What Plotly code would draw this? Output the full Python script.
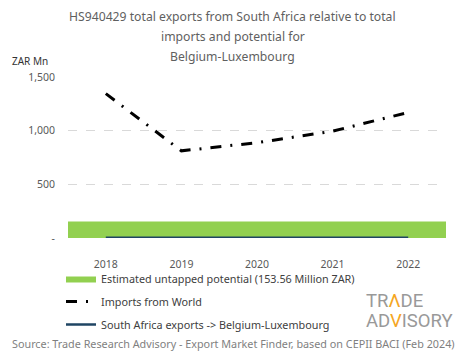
import plotly.graph_objects as go

years = ["2018", "2019", "2020", "2021", "2022"]
imports_world = [1345, 812, 888, 995, 1170]
sa_exports = [2.0, 1.5, 3.0, 1.5, 2.5]
potential_value = 153.56
y_tickvals = [0, 500, 1000, 1500]
y_ticktext = ["-", "500", "1,000", "1,500"]

title_lines = [
    "HS940429 total exports from South Africa relative to total",
    "imports and potential for",
    "Belgium-Luxembourg",
]

FONT = "Noto Sans, Open Sans, sans-serif"
x_idx = list(range(len(years)))
band_x = [x_idx[0] - 0.5, x_idx[-1] + 0.5]
band_y = [potential_value, potential_value]

fig = go.Figure()
fig.add_trace(go.Scatter(
    x=band_x, y=band_y, mode="lines", fill="tozeroy",
    fillcolor="#92D050", line=dict(width=0, color="#92D050"),
    name=f"Estimated untapped potential ({potential_value:.2f} Million ZAR)",
    legendgroup="a", hoverinfo="skip",
))
fig.add_trace(go.Scatter(
    x=x_idx, y=imports_world, mode="lines",
    line=dict(color="black", width=3, dash="11px,9px,2px,9px"),
    name="Imports from World", legendgroup="b",
))
fig.add_trace(go.Scatter(
    x=x_idx, y=sa_exports, mode="lines",
    line=dict(color="#1f4563", width=2.5),
    name="South Africa exports -> Belgium-Luxembourg", legendgroup="c",
))

# page body has an 8px default margin; lay out in window pixels
OFF = 8
W, H = 465 - OFF, 359 - OFF
L, T, B, R = 68 - OFF, 77 - OFF, 238 - OFF, 446 - OFF
pw, ph = R - L, B - T

def px(x):
    return (x - OFF - L) / pw

def py(y):
    return (B - (y - OFF)) / ph

annotations = []
for line, yc in zip(title_lines, [16.5, 36, 56]):
    annotations.append(dict(
        text=line, xref="paper", yref="paper", x=px(232.5), y=py(yc),
        xanchor="center", yanchor="middle", showarrow=False,
        font=dict(family=FONT, size=12.2, color="#5f5f5f"),
    ))
annotations.append(dict(
    text="ZAR Mn", xref="paper", yref="paper", x=px(10), y=py(61),
    xanchor="left", yanchor="middle", showarrow=False,
    font=dict(family=FONT, size=10, color="#333333"),
))
annotations.append(dict(
    text="Source: Trade Research Advisory - Export Market Finder, based on CEPII BACI (Feb 2024)",
    xref="paper", yref="paper", x=px(233), y=py(343),
    xanchor="center", yanchor="middle", showarrow=False,
    font=dict(family=FONT, size=10.8, color="#7f7f7f"),
))
LOGO_FONT = "Roboto, Liberation Sans, sans-serif"
annotations.append(dict(
    text="TR<span style='color:#F5A623'>Λ</span>DE",
    xref="paper", yref="paper", x=px(364), y=py(301),
    xanchor="left", yanchor="middle", showarrow=False,
    font=dict(family=LOGO_FONT, size=18.5, color="#999999"),
))
annotations.append(dict(
    text="AD<span style='color:#F5A623'>V</span>ISORY",
    xref="paper", yref="paper", x=px(364), y=py(321),
    xanchor="left", yanchor="middle", showarrow=False,
    font=dict(family=LOGO_FONT, size=18.5, color="#999999"),
))

fig.update_layout(
    width=W, height=H,
    margin=dict(l=L, r=W - R, t=T, b=H - B),
    paper_bgcolor="white", plot_bgcolor="white",
    showlegend=True,
    legend=dict(
        x=px(61), y=py(264), xanchor="left", yanchor="top",
        traceorder="grouped", tracegroupgap=4,
        font=dict(family=FONT, size=10.8, color="#404040"),
        bgcolor="rgba(0,0,0,0)",
    ),
    annotations=annotations,
    font=dict(family=FONT),
)
fig.update_xaxes(
    range=band_x, tickvals=x_idx, ticktext=years,
    showgrid=False, zeroline=False, showline=False,
    tickfont=dict(family=FONT, size=10.5, color="#595959"),
    ticklabelstandoff=18,
)
fig.update_yaxes(
    range=[0, 1500], tickvals=y_tickvals, ticktext=y_ticktext,
    showgrid=True, gridcolor="#d9d9d9", griddash="dash", gridwidth=1,
    zeroline=False, showline=False,
    tickfont=dict(family=FONT, size=10.5, color="#595959"),
    ticklabelstandoff=12,
)
fig.write_html("out.html")
